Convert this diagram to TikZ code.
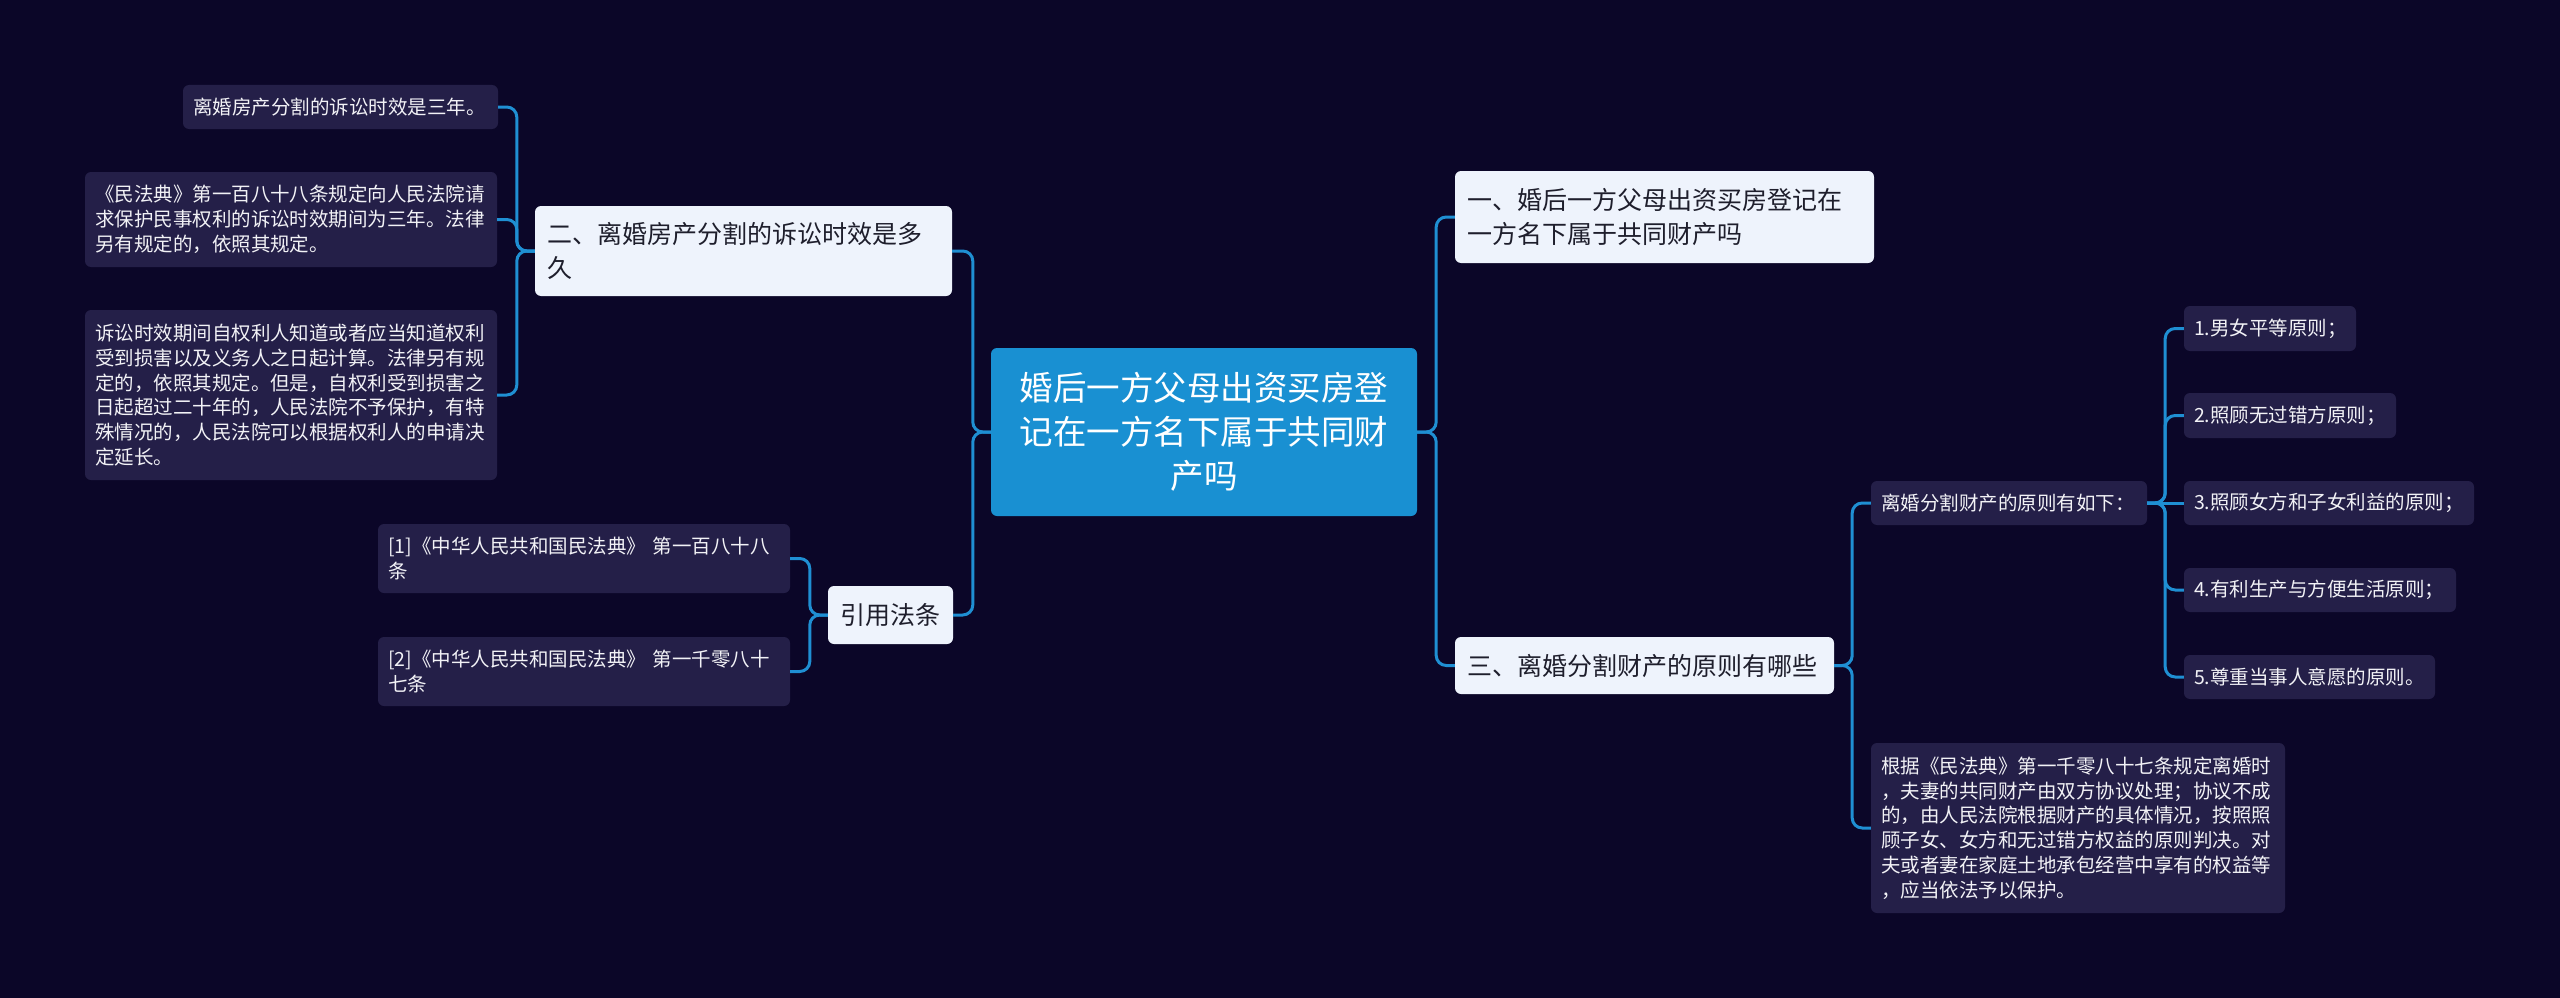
\documentclass[tikz,border=0pt]{standalone}
\usepackage{fontspec}
\setmainfont{Noto Sans CJK SC}
\definecolor{bgc}{HTML}{0B0628}
\definecolor{darkbox}{HTML}{241F48}
\definecolor{lightbox}{HTML}{EEF3FC}
\definecolor{centerbox}{HTML}{1990D2}
\definecolor{linec}{HTML}{1F8FD3}
\definecolor{darktext}{HTML}{1E1E2C}
\definecolor{lighttext}{HTML}{F2F2F6}
\tikzset{
  conn/.style={draw=linec, line width=3pt, rounded corners=10pt},
  boxbase/.style={rounded corners=6pt, inner xsep=10pt, inner ysep=0pt, anchor=center},
  centernode/.style={boxbase, fill=centerbox, text=white, align=center,
     font=\fontsize{33.5}{44}\selectfont},
  lvlone/.style={boxbase, fill=lightbox, text=darktext, align=left, inner xsep=12pt,
     font=\fontsize{25}{34}\selectfont},
  leafnode/.style={boxbase, fill=darkbox, text=lighttext, align=left,
     font=\fontsize{19.5}{24.8}\selectfont},
  bx/.style 2 args={minimum width=#1pt, minimum height=#2pt},
}
\begin{document}
\begin{tikzpicture}[x=1pt,y=-1pt]
\useasboundingbox[fill=bgc] (0,0) rectangle (2560,998);

% center
\node[centernode, bx={426}{168}, text width=400pt] (C) at (1204,432)
  {婚后一方父母出资买房登\\记在一方名下属于共同财\\产吗};

% right side
\node[lvlone, bx={419}{92}, text width=395pt] (A1) at (1664.5,217)
  {一、婚后一方父母出资买房登记在\\一方名下属于共同财产吗};
\node[lvlone, bx={379}{57}, text width=355pt] (A3) at (1644.5,665.5)
  {三、离婚分割财产的原则有哪些};
\node[leafnode, bx={276}{44}, text width=256pt] (B) at (2009,503)
  {离婚分割财产的原则有如下：};
\node[leafnode, bx={172}{45}, text width=152pt] (P1) at (2270,328.5)
  {1.男女平等原则；};
\node[leafnode, bx={212}{45}, text width=192pt] (P2) at (2290,415.5)
  {2.照顾无过错方原则；};
\node[leafnode, bx={290}{44}, text width=270pt] (P3) at (2329,503)
  {3.照顾女方和子女利益的原则；};
\node[leafnode, bx={272}{44}, text width=252pt] (P4) at (2320,590)
  {4.有利生产与方便生活原则；};
\node[leafnode, bx={251}{44}, text width=231pt] (P5) at (2309.5,677)
  {5.尊重当事人意愿的原则。};
\node[leafnode, bx={414}{170}, text width=394pt] (N) at (2078,828)
  {根据《民法典》第一千零八十七条规定离婚时\\，夫妻的共同财产由双方协议处理；协议不成\\的，由人民法院根据财产的具体情况，按照照\\顾子女、女方和无过错方权益的原则判决。对\\夫或者妻在家庭土地承包经营中享有的权益等\\，应当依法予以保护。};

% left side
\node[lvlone, bx={417}{90}, text width=393pt] (L2) at (743.5,251)
  {二、离婚房产分割的诉讼时效是多\\久};
\node[lvlone, bx={125}{58}, text width=101pt] (R) at (890.5,615)
  {引用法条};
\node[leafnode, bx={412}{69}, text width=392pt] (Q1) at (584,558.5)
  {[1]《中华人民共和国民法典》 第一百八十八\\条};
\node[leafnode, bx={412}{69}, text width=392pt] (Q2) at (584,671.5)
  {[2]《中华人民共和国民法典》 第一千零八十\\七条};
\node[leafnode, bx={315}{44}, text width=295pt] (S1) at (340.5,107)
  {离婚房产分割的诉讼时效是三年。};
\node[leafnode, bx={412}{95}, text width=392pt] (S2) at (291,219.5)
  {《民法典》第一百八十八条规定向人民法院请\\求保护民事权利的诉讼时效期间为三年。法律\\另有规定的，依照其规定。};
\node[leafnode, bx={412}{170}, text width=392pt] (S3) at (291,395)
  {诉讼时效期间自权利人知道或者应当知道权利\\受到损害以及义务人之日起计算。法律另有规\\定的，依照其规定。但是，自权利受到损害之\\日起超过二十年的，人民法院不予保护，有特\\殊情况的，人民法院可以根据权利人的申请决\\定延长。};

% connectors right
\draw[conn] (C.east) -- ++(19,0) |- (A1.west);
\draw[conn] (C.east) -- ++(19,0) |- (A3.west);
\draw[conn] (A3.east) -- ++(18,0) |- (B.west);
\draw[conn] (A3.east) -- ++(18,0) |- (N.west);
\draw[conn] (B.east) -- ++(18,0) |- (P1.west);
\draw[conn] (B.east) -- ++(18,0) |- (P2.west);
\draw[conn] (B.east) -- (P3.west);
\draw[conn] (B.east) -- ++(18,0) |- (P4.west);
\draw[conn] (B.east) -- ++(18,0) |- (P5.west);

% connectors left
\draw[conn] (C.west) -- ++(-18,0) |- (L2.east);
\draw[conn] (C.west) -- ++(-18,0) |- (R.east);
\draw[conn] (L2.west) -- ++(-18,0) |- (S1.east);
\draw[conn] (L2.west) -- ++(-18,0) |- (S2.east);
\draw[conn] (L2.west) -- ++(-18,0) |- (S3.east);
\draw[conn] (R.west) -- ++(-18,0) |- (Q1.east);
\draw[conn] (R.west) -- ++(-18,0) |- (Q2.east);
\end{tikzpicture}
\end{document}
